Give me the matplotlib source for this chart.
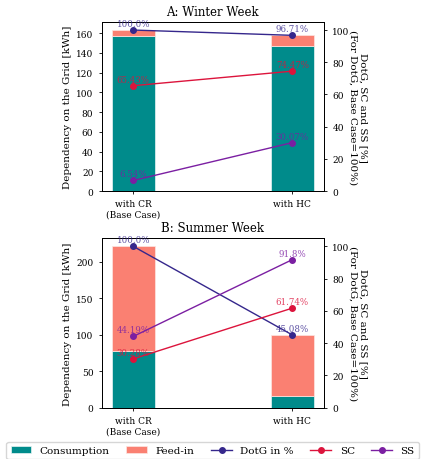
import numpy as np
import matplotlib
matplotlib.use('Agg')
import matplotlib.pyplot as plt

plt.rcParams['font.family'] = 'DejaVu Serif'

# Data
cases = ['with CR\n(Base Case)', 'with HC']

winter_consumption = [157.0, 147.0]
winter_feedin = [6.0, 10.6]
winter_dotg = [100.0, 96.71]
winter_sc = [65.43, 74.47]
winter_ss = [6.54, 30.07]

summer_consumption = [78.0, 16.5]
summer_feedin = [143.0, 83.1]
summer_dotg = [100.0, 45.08]
summer_sc = [30.28, 61.74]
summer_ss = [44.19, 91.8]

col_cons = '#008b8b'
col_feed = '#fa8072'
col_dotg = '#35278c'
col_sc = '#dc143c'
col_ss = '#7b1fa2'


def draw_panel(ax, title, consumption, feedin, dotg, sc, ss):
    x = np.arange(len(cases))
    ax.bar(x, consumption, width=0.27, color=col_cons, edgecolor='#e8f4f4', linewidth=0.5, label='Consumption')
    ax.bar(x, feedin, width=0.27, bottom=consumption, color=col_feed, edgecolor='#fde6e2', linewidth=0.5, label='Feed-in')
    ax.set_xticks(x)
    ax.set_xticklabels(cases, fontsize=6.5)
    ax.tick_params(axis='y', labelsize=6.5)
    ax.tick_params(length=2.5, width=0.6)
    ax.set_ylabel('Dependency on the Grid [kWh]', fontsize=7.5, labelpad=3)
    ax.set_title(title, fontsize=8.5, pad=5)

    ax2 = ax.twinx()
    series = [(dotg, col_dotg, 'DotG in %'), (sc, col_sc, 'SC'), (ss, col_ss, 'SS')]
    for vals, col, lab in series:
        ax2.plot(x, vals, color=col, marker='o', markersize=4, linewidth=1, label=lab)
        for xi, v in zip(x, vals):
            ax2.annotate(f'{v}%', (xi, v), xytext=(0, 1.5), textcoords='offset points',
                         ha='center', va='bottom', fontsize=6.2, color=col, alpha=0.8)
    ax2.set_ylim(0, 105)
    ax2.set_yticks([0, 20, 40, 60, 80, 100])
    ax2.tick_params(axis='y', labelsize=6.5, length=2.5, width=0.6)
    ax2.set_ylabel('DotG, SC and SS [%]\n(For DotG, Base Case=100%)', fontsize=7.5,
                   rotation=270, labelpad=13)
    for a in (ax, ax2):
        for s in a.spines.values():
            s.set_linewidth(0.7)
    return ax2


fig = plt.figure(figsize=(4.23, 4.6), dpi=100)
ax_top = fig.add_axes([0.2404, 0.5826, 0.5255, 0.3674])
ax_bot = fig.add_axes([0.2404, 0.1115, 0.5255, 0.3683])

draw_panel(ax_top, 'A: Winter Week', winter_consumption, winter_feedin,
           winter_dotg, winter_sc, winter_ss)
ax2_bot = draw_panel(ax_bot, 'B: Summer Week', summer_consumption, summer_feedin,
                     summer_dotg, summer_sc, summer_ss)

h1, l1 = ax_bot.get_legend_handles_labels()
h2, l2 = ax2_bot.get_legend_handles_labels()
ax_bot.legend(h1 + h2, l1 + l2, loc='upper left', bbox_to_anchor=(-0.452, -0.17),
              ncol=5, fontsize=7.5, columnspacing=1.6, frameon=True)

fig.savefig('out.png', dpi=100)
